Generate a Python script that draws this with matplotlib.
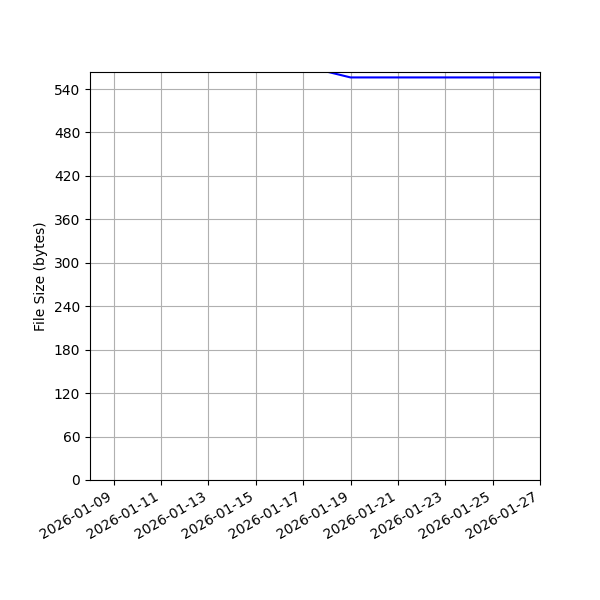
import numpy as np
import pandas as pd
import matplotlib
matplotlib.use("Agg")
import matplotlib.pyplot as plt
import matplotlib.dates as mdates

# ── Data ──────────────────────────────────────────────────────────────────────
dates = pd.date_range("2026-01-08", "2026-01-27", freq="D")
sizes = [564, 564, 564, 564, 564, 564, 564, 564, 564, 564, 564,
         556, 556, 556, 556, 556, 556, 556, 556, 556]

fig, ax = plt.subplots(figsize=(6, 6), dpi=100)
ax.plot(dates, sizes, color="blue")

ax.set_ylabel("File Size (bytes)")
ax.set_ylim(0, 563.5)
ax.set_yticks(np.arange(0, 541, 60))
ax.set_xlim(dates[0], dates[-1])
ax.xaxis.set_major_locator(mdates.DayLocator(bymonthday=range(1, 32, 2)))
ax.xaxis.set_major_formatter(mdates.DateFormatter("%Y-%m-%d"))
ax.grid(True)

fig.autofmt_xdate()
fig.subplots_adjust(left=0.15)
fig.savefig("out.png", dpi=100)
